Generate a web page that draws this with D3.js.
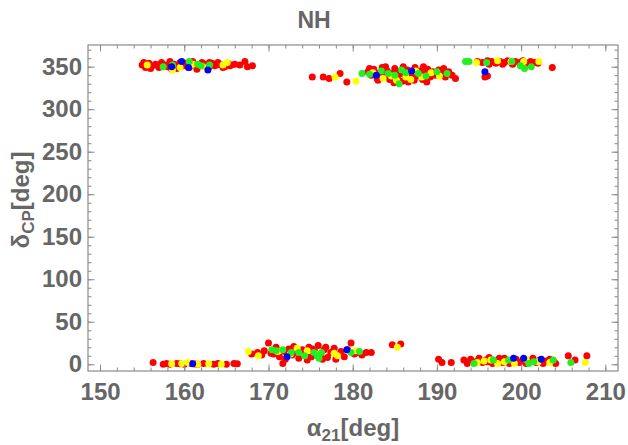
<!DOCTYPE html>
<html><head><meta charset="utf-8">
<script src="https://cdn.jsdelivr.net/npm/d3@7"></script>
<style>
html,body{margin:0;padding:0;background:#fff;}
text{font-family:"Liberation Sans",Arial,Helvetica,sans-serif;font-weight:bold;fill:#666;}
</style></head>
<body>
<svg id="chart" width="628" height="445"></svg>
<script>
// ---- data (alpha21 [deg], deltaCP [deg]) ----
const title = "NH";
const xTicks = [150, 160, 170, 180, 190, 200, 210];
const yTicks = [0, 50, 100, 150, 200, 250, 300, 350];
const xDomain = [148.57, 211.5];
const yDomain = [-7.9, 375.5];

const redPoints = [
  // top-left
  [155.0,352],[155.4,349],[155.8,354],[156.2,351],[156.6,353],[157.0,349],[157.3,355],[157.7,352],[158.0,350],[158.3,356],
  [158.8,353],[159.1,348],[159.5,355],[159.9,351],[160.2,354],[160.6,349],[161.0,356],[161.3,352],[161.7,350],[162.1,355],
  [162.5,353],[162.9,349],[163.3,354],[163.6,351],[164.0,355],[164.4,352],[164.8,350],[165.2,354],[165.6,352],[166.0,353],
  [156.9,351],[158.5,347],[160.0,353],[162.0,351],[163.8,352],[166.6,352],[167.2,356],[167.5,350],[168.1,351],
  [155.2,355],[156.0,348],[157.2,352],[159.0,351],[161.5,347],[163.0,355],[164.6,349],[165.4,351],
  // top-middle
  [175.2,338],[176.5,338],[177.2,336],[178.5,342],[179.3,332],
  [181.8,344],[182.2,340],[182.5,347],[182.9,336],[183.2,343],[183.5,349],[183.8,339],[184.1,345],[184.4,335],[184.7,342],
  [185.0,348],[185.3,338],[185.6,344],[185.9,333],[186.2,340],[186.5,346],[186.8,337],[187.1,343],[187.4,349],[187.7,339],
  [188.0,345],[188.3,335],[188.6,342],[188.9,347],[189.2,338],[189.5,344],[189.8,340],[190.2,346],[190.6,342],[191.0,338],
  [191.4,344],[191.8,340],[192.2,336],[183.0,334],[184.9,331],[186.0,350],[187.3,334],[188.4,350],[184.0,341],[185.5,341],
  [187.0,341],[189.0,341],[182.0,348],[183.9,350],[186.6,332],[188.8,332],[190.8,348],
  // top-right
  [194.8,356],[195.4,355],[196.0,357],[196.5,356],[197.0,354],[197.5,356],[198.0,355],[198.4,357],[198.9,354],[199.3,356],
  [199.8,355],[200.2,357],[200.7,354],[201.1,356],[201.6,355],[202.0,354],[196.2,353],[197.8,353],[199.0,353],[203.7,349],
  [195.7,338],[196.0,339],
  // bottom-left
  [156.3,2],[157.5,0],[157.9,1],[158.3,0],[159.1,1],[160.0,0],[160.8,1],[161.6,0],[162.3,1],[163.5,0],
  [164.0,1],[165.0,0],[165.9,1],[166.3,0.5],[159.5,0.5],[161.3,0.3],
  // bottom-middle
  [168.0,12],[168.7,14],[169.2,11],[169.5,16],[170.0,25],[170.3,13],[170.9,20],[171.3,9],[171.7,1],[171.9,15],
  [172.4,18],[172.8,11],[173.2,14],[173.6,7],[174.0,17],[174.4,12],[174.8,20],[175.1,9],[175.5,15],[175.9,22],
  [176.2,11],[176.6,17],[177.0,8],[177.4,14],[177.8,19],[178.2,11],[178.6,15],[179.0,9],[179.4,17],[179.8,25],
  [180.2,12],[180.6,14],[181.1,11],[181.6,14],[182.2,14],[170.6,12],[172.0,6],[173.0,21],[174.6,5],[176.4,6],
  [178.0,6],[175.2,18],[176.8,20],[184.7,23],[185.7,24],
  // bottom-right
  [190.2,6],[190.6,2],[191.7,2],[193.2,5],[193.6,1],[194.0,6],[194.6,3],[195.0,7],[195.4,2],[195.8,5],
  [196.2,8],[196.6,1],[197.0,4],[197.4,7],[197.8,2],[198.2,5],[198.6,1],[199.0,4],[199.4,6],[199.8,2],
  [200.2,5],[200.6,1],[201.0,4],[201.4,7],[201.8,2],[202.2,5],[202.6,1],[203.0,4],[203.4,6],[203.9,3],
  [204.1,1],[205.6,10],[206.4,5],[207.8,10],[196.0,3],[198.0,7]
];
const yellowPoints = [
  [155.6,352],[158.6,346],[161.0,353],[162.2,350],[164.6,352],[165.1,355],[159.5,349],
  [177.9,338],[180.4,333],[182.4,343],[183.6,336],[185.2,334],[186.3,338],[187.5,345],[188.2,338],[189.3,343],[190.3,339],
  [184.6,339],[186.9,335],
  [194.7,355],[198.8,356],[200.3,356],[202.1,356],[197.2,357],
  [158.5,0.5],[159.7,1],[160.4,2],[161.6,0],[162.9,0.5],[164.4,0],
  [167.6,15],[168.8,10],[171.1,15],[173.4,19],[174.6,16],[177.8,13],[178.2,10],[180.4,16],[185.3,20],[172.6,12],[176.0,12],
  [194.8,2],[195.6,4],[197.2,1],[198.0,3],[199.2,1],[200.6,6],[202.0,3],[203.4,2],[207.6,2],[196.4,5]
];
const greenPoints = [
  [157.5,350],[158.6,352],[160.6,356],[161.6,353],[163.0,352],[162.0,351],
  [181.1,342],[182.0,341],[183.4,345],[184.2,342],[185.0,340],[185.8,346],[186.3,343],[187.8,342],[188.7,339],[190.0,344],
  [191.2,342],[185.5,330],
  [193.4,356],[193.8,356],[195.9,355],[198.9,356],[199.9,351],[200.4,348],[201.2,350],
  [170.4,17],[170.9,16],[171.7,17],[172.7,14],[173.6,14],[174.3,10],[175.4,14],[175.8,10],[176.3,14],[176.0,7],[179.8,14],[180.8,15],
  [194.4,1],[196.7,5],[198.5,5],[200.9,1],[203.8,5],[205.9,2],[201.5,3]
];
const bluePoints = [
  [158.5,350],[159.7,356],[160.5,349],[162.8,346],
  [182.8,340],[187.0,345],
  [195.7,344],
  [161.0,0.5],
  [172.2,9],[179.3,17],
  [199.1,7],[200.3,7],[202.4,6]
];
const series = [
  {name: "red", color: "#ff0000", points: redPoints},
  {name: "yellow", color: "#ffff00", points: yellowPoints},
  {name: "green", color: "#22ee22", points: greenPoints},
  {name: "blue", color: "#0000ff", points: bluePoints}
];

// ---- layout ----
const W = 628, H = 445;
const m = {left: 88, right: 10, top: 45, bottom: 74};
const svg = d3.select("#chart");
const x = d3.scaleLinear().domain(xDomain).range([m.left, W - m.right]);
const y = d3.scaleLinear().domain(yDomain).range([H - m.bottom, m.top]);
const frameColor = "#8a8a8a";
const labelFont = "'Liberation Sans',Arial,Helvetica,sans-serif";

// points
const gp = svg.append("g");
series.forEach(s => {
  gp.append("g").selectAll("circle").data(s.points).join("circle")
    .attr("cx", d => x(d[0])).attr("cy", d => y(d[1]))
    .attr("r", 3.5).attr("fill", s.color);
});

// frame
svg.append("rect").attr("x", m.left).attr("y", m.top)
  .attr("width", W - m.left - m.right).attr("height", H - m.top - m.bottom)
  .attr("fill", "none").attr("stroke", frameColor).attr("stroke-width", 1.2);

function styleAxis(g) {
  g.select(".domain").remove();
  g.selectAll(".tick line").attr("stroke", frameColor);
}
function styleLabels(g) {
  g.selectAll("text").attr("font-size", 24).attr("fill", "#666")
    .attr("font-family", labelFont).attr("font-weight", "bold");
}
const xMinor = x.ticks(30), yMinor = y.ticks(40);

// bottom
svg.append("g").attr("transform", `translate(0,${H - m.bottom})`)
  .call(d3.axisBottom(x).tickValues(xMinor).tickSize(-3.5).tickFormat(""))
  .call(styleAxis);
svg.append("g").attr("transform", `translate(0,${H - m.bottom})`)
  .call(d3.axisBottom(x).tickValues(xTicks).tickSize(-6.5).tickPadding(12).tickFormat(d3.format("d")))
  .call(styleAxis).call(styleLabels);
// top
svg.append("g").attr("transform", `translate(0,${m.top})`)
  .call(d3.axisTop(x).tickValues(xMinor).tickSize(-3.5).tickFormat(""))
  .call(styleAxis);
svg.append("g").attr("transform", `translate(0,${m.top})`)
  .call(d3.axisTop(x).tickValues(xTicks).tickSize(-6.5).tickFormat(""))
  .call(styleAxis);
// left
svg.append("g").attr("transform", `translate(${m.left},0)`)
  .call(d3.axisLeft(y).tickValues(yMinor).tickSize(-3.5).tickFormat(""))
  .call(styleAxis);
svg.append("g").attr("transform", `translate(${m.left},0)`)
  .call(d3.axisLeft(y).tickValues(yTicks).tickSize(-6.5).tickPadding(6).tickFormat(d3.format("d")))
  .call(styleAxis).call(styleLabels);
// right
svg.append("g").attr("transform", `translate(${W - m.right},0)`)
  .call(d3.axisRight(y).tickValues(yMinor).tickSize(-3.5).tickFormat(""))
  .call(styleAxis);
svg.append("g").attr("transform", `translate(${W - m.right},0)`)
  .call(d3.axisRight(y).tickValues(yTicks).tickSize(-6.5).tickFormat(""))
  .call(styleAxis);

// title
svg.append("text").attr("x", W / 2).attr("y", 28)
  .attr("text-anchor", "middle").attr("font-size", 23).text(title);

// x label
const xl = svg.append("text").attr("x", (m.left + W - m.right) / 2).attr("y", 436)
  .attr("text-anchor", "middle").attr("font-size", 24);
xl.append("tspan").text("α");
xl.append("tspan").attr("font-size", 17).attr("dy", 5).text("21");
xl.append("tspan").attr("dy", -5).text("[deg]");

// y label
const ylab = svg.append("text").attr("transform", `translate(29,${(m.top + H - m.bottom) / 2 - 8}) rotate(-90)`)
  .attr("text-anchor", "middle").attr("font-size", 24);
ylab.append("tspan").text("δ");
ylab.append("tspan").attr("font-size", 17).attr("dy", 5).text("CP");
ylab.append("tspan").attr("dy", -5).text("[deg]");
</script>
</body></html>
